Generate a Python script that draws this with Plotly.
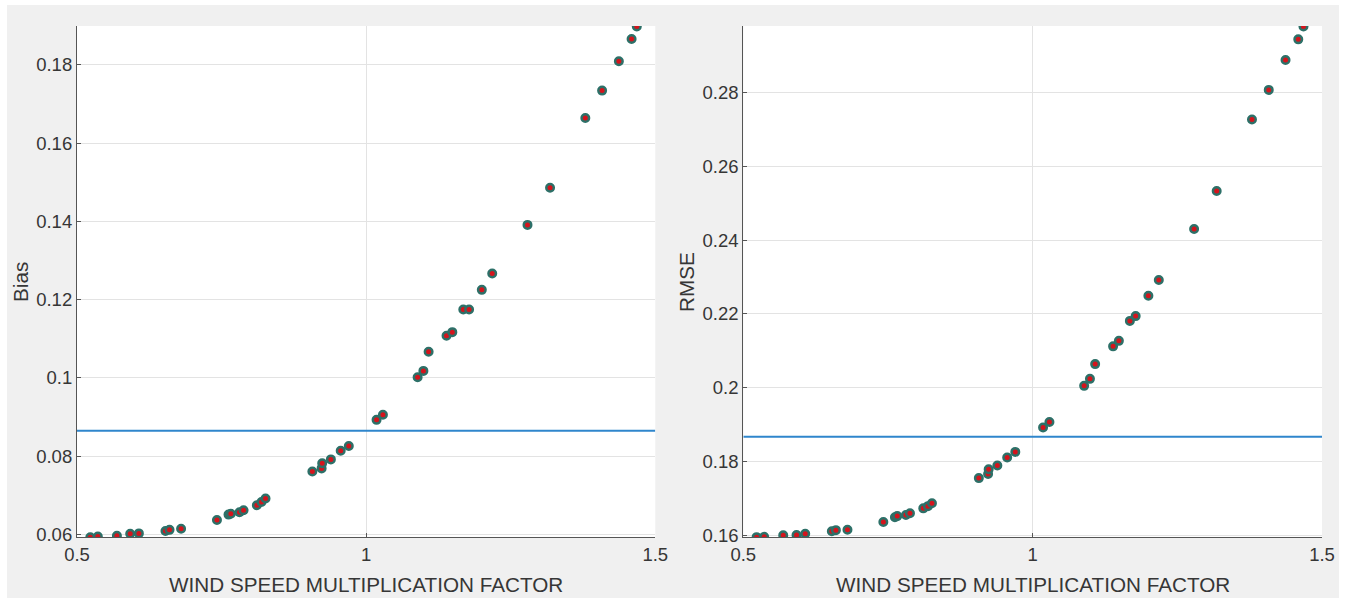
import plotly.graph_objects as go

# ---- data ----
wind_factor = [0.523, 0.536, 0.569, 0.592, 0.607, 0.653, 0.660, 0.680, 0.742, 0.762,
               0.766, 0.781, 0.788, 0.811, 0.819, 0.826, 0.907, 0.923, 0.924, 0.939,
               0.956, 0.970, 1.018, 1.029, 1.089, 1.099, 1.108, 1.139, 1.149, 1.168,
               1.178, 1.200, 1.218, 1.279, 1.318, 1.379, 1.408, 1.437, 1.459, 1.468]

bias = [0.0593, 0.0595, 0.0597, 0.0602, 0.0603, 0.0609, 0.0612, 0.0615, 0.0637, 0.0651,
        0.0653, 0.0657, 0.0662, 0.0675, 0.0683, 0.0692, 0.0761, 0.0769, 0.0782, 0.0792,
        0.0814, 0.0826, 0.0893, 0.0906, 0.1002, 0.1018, 0.1067, 0.1108, 0.1117, 0.1175,
        0.1175, 0.1225, 0.1267, 0.1391, 0.1486, 0.1664, 0.1734, 0.1809, 0.1866, 0.1898]

rmse = [0.1595, 0.1596, 0.1600, 0.1601, 0.1604, 0.1611, 0.1614, 0.1615, 0.1636, 0.1649,
        0.1652, 0.1655, 0.1660, 0.1673, 0.1679, 0.1687, 0.1755, 0.1766, 0.1779, 0.1789,
        0.1811, 0.1826, 0.1892, 0.1907, 0.2005, 0.2024, 0.2064, 0.2112, 0.2127, 0.2181,
        0.2194, 0.2249, 0.2292, 0.2430, 0.2533, 0.2727, 0.2807, 0.2888, 0.2944, 0.2979]

bias_reference = 0.0865
rmse_reference = 0.1867

x_range = [0.5, 1.5]
x_tickvals = [0.5, 1, 1.5]
x_ticktext = ["0.5", "1", "1.5"]

bias_range = [0.0593, 0.1899]
bias_tickvals = [0.06, 0.08, 0.10, 0.12, 0.14, 0.16, 0.18]
bias_ticktext = ["0.06", "0.08", "0.1", "0.12", "0.14", "0.16", "0.18"]

rmse_range = [0.15946, 0.29802]
rmse_tickvals = [0.16, 0.18, 0.20, 0.22, 0.24, 0.26, 0.28]
rmse_ticktext = ["0.16", "0.18", "0.2", "0.22", "0.24", "0.26", "0.28"]

x_title = "WIND SPEED MULTIPLICATION FACTOR"

# ---- styling ----
W, H = 1348, 598
FONT = "Liberation Sans, Arial, Helvetica, sans-serif"
TXT = "#363636"
AXC = "#555555"
GRID = "#e3e3e3"
BG = "#f0f0f0"
marker = dict(size=7.5, color="#d4141c", line=dict(color="#2d7068", width=2.5))
line_style = dict(color="#2f86cc", width=2)

fig = go.Figure()

fig.add_trace(go.Scatter(x=wind_factor, y=bias, mode="markers", marker=marker,
                         xaxis="x", yaxis="y", showlegend=False))
fig.add_trace(go.Scatter(x=x_range, y=[bias_reference] * 2, mode="lines", line=line_style,
                         xaxis="x", yaxis="y", showlegend=False))
fig.add_trace(go.Scatter(x=wind_factor, y=rmse, mode="markers", marker=marker,
                         xaxis="x2", yaxis="y2", showlegend=False))
fig.add_trace(go.Scatter(x=x_range, y=[rmse_reference] * 2, mode="lines", line=line_style,
                         xaxis="x2", yaxis="y2", showlegend=False))

def px(v):
    return v / W

def py(v):
    return 1 - v / H

common = dict(showgrid=True, gridcolor=GRID, gridwidth=1, zeroline=False, automargin=False,
              showline=True, linecolor=AXC, linewidth=1.2, ticks="inside",
              ticklen=4, tickcolor=AXC, tickfont=dict(family=FONT, size=18.5, color=TXT))
common_x = dict(range=x_range, tickvals=x_tickvals, ticktext=x_ticktext, **common)

top, bottom = 26, 537.3
title_font = dict(family=FONT, size=20.7, color=TXT)
fig.update_layout(
    width=W, height=H, autosize=False,
    margin=dict(l=0, r=0, t=0, b=0, pad=0, autoexpand=False),
    paper_bgcolor=BG, plot_bgcolor="white",
    xaxis=dict(domain=[px(77), px(655.3)], anchor="y", **common_x),
    yaxis=dict(domain=[py(bottom), py(top)], anchor="x", range=bias_range,
               tickvals=bias_tickvals, ticktext=bias_ticktext, **common),
    xaxis2=dict(domain=[px(743.3), px(1322)], anchor="y2", **common_x),
    yaxis2=dict(domain=[py(bottom), py(top)], anchor="x2", range=rmse_range,
                tickvals=rmse_tickvals, ticktext=rmse_ticktext, **common),
    shapes=[
        dict(type="rect", xref="paper", yref="paper", x0=0, x1=px(7), y0=0, y1=1,
             fillcolor="white", line=dict(width=0), layer="below"),
        dict(type="rect", xref="paper", yref="paper", x0=0, x1=1, y0=py(5), y1=1,
             fillcolor="white", line=dict(width=0), layer="below"),
        dict(type="rect", xref="paper", yref="paper", x0=px(1339), x1=1, y0=0, y1=1,
             fillcolor="white", line=dict(width=0), layer="below"),
    ],
    annotations=[
        dict(text=x_title, xref="paper", yref="paper", x=px(366), y=py(584),
             showarrow=False, xanchor="center", yanchor="middle", font=title_font),
        dict(text=x_title, xref="paper", yref="paper", x=px(1032.7), y=py(584),
             showarrow=False, xanchor="center", yanchor="middle", font=title_font),
        dict(text="Bias", xref="paper", yref="paper", x=px(20), y=py(282),
             showarrow=False, xanchor="center", yanchor="middle", textangle=-90,
             font=title_font),
        dict(text="RMSE", xref="paper", yref="paper", x=px(686), y=py(282),
             showarrow=False, xanchor="center", yanchor="middle", textangle=-90,
             font=title_font),
    ],
)

page_fix = ("document.documentElement.style.margin='0';"
            "document.body.style.margin='0';"
            "document.body.style.padding='0';"
            "document.body.style.overflow='hidden';"
            "document.documentElement.style.overflow='hidden';")

fig.write_html("out.html", post_script=page_fix,
               config={"responsive": False, "displayModeBar": False})
